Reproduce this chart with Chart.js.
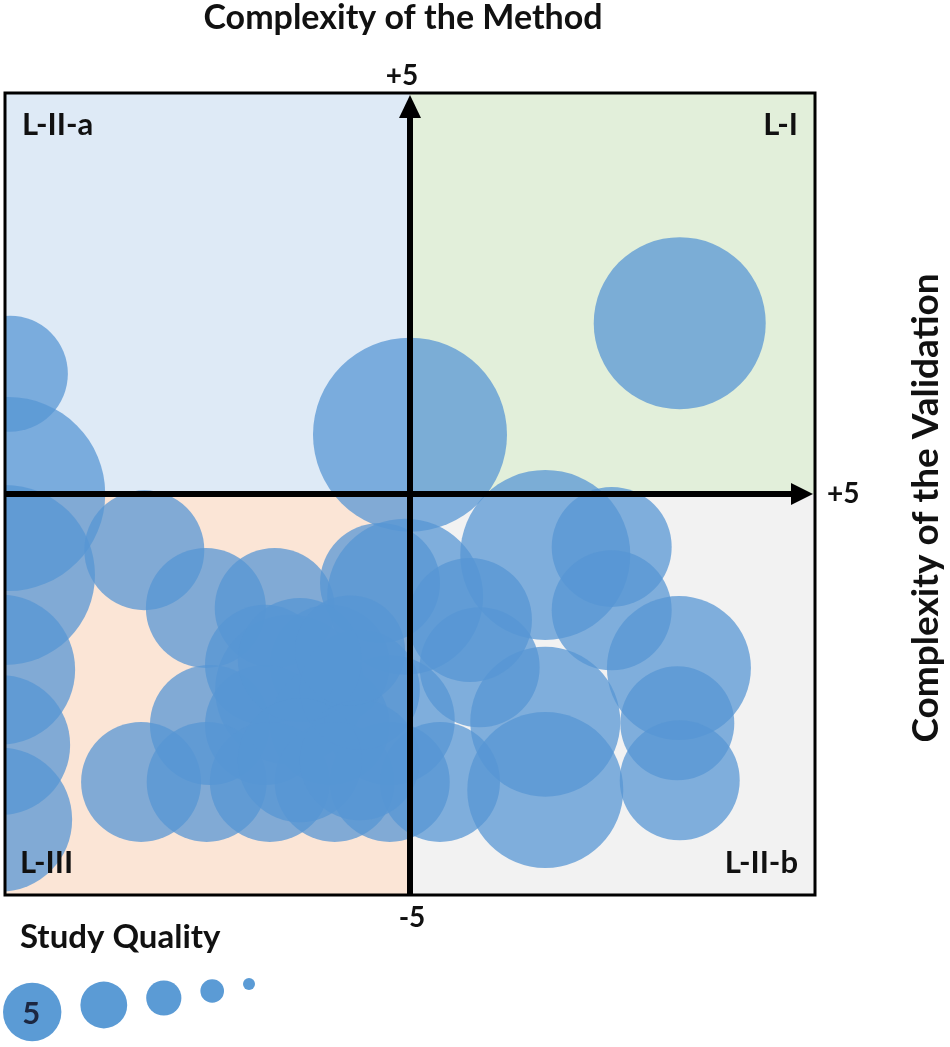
<!DOCTYPE html>
<html>
<head>
<meta charset="utf-8">
<script src="https://cdn.jsdelivr.net/npm/chart.js@4.4.1/dist/chart.umd.min.js"></script>
<style>
    html, body { margin: 0; padding: 0; background: #fff; }
    #wrap { position: relative; width: 950px; height: 1047px; }
</style>
</head>
<body>
<div id="wrap"><canvas id="quadrantChart"></canvas></div>
<script>
// studies: method complexity (x), validation complexity (y), bubble radius (study quality)
const methodScore = [3.33, 0.00, -4.94, -4.96, -5.00, -5.06, -5.06, -5.06, -3.28, -2.52,
    -1.67, -0.37, -0.06, -1.79, -0.99, -1.48, -2.47, -1.79, -0.99, -0.25,
    -3.32, -2.51, -1.73, -0.93, -0.25, -0.62, 1.67, 2.49, 2.49, 3.32,
    3.30, 3.33, 1.67, 1.67, 0.86, 0.74, 0.37, -1.36, -1.36, -0.62,
    -0.74];
const validationScore = [2.13, 0.74, 1.50, 0.00, -1.01, -2.19, -3.13, -4.06, -0.70, -1.42,
    -1.42, -1.11, -1.28, -2.13, -2.13, -2.44, -2.88, -2.88, -2.88, -2.82,
    -3.59, -3.59, -3.59, -3.59, -3.59, -2.44, -0.76, -0.66, -1.45, -2.17,
    -2.86, -3.57, -2.84, -3.69, -2.16, -1.57, -3.59, -2.07, -3.32, -3.32,
    -1.95];
const qualitySize = [86, 97, 58, 97, 90, 75, 70, 72, 60, 60,
    60, 60, 78, 60, 60, 75, 60, 60, 60, 65,
    60, 60, 60, 60, 60, 60, 85, 60, 60, 72,
    57, 60, 75, 78, 60, 62, 60, 62, 62, 60,
    55];

const axisMin = -5;
const axisMax = 5;
const tickLabels = { top: '+5', right: '+5', bottom: '-5' };
const quadrantNames = { topLeft: 'L-II-a', topRight: 'L-I', bottomLeft: 'L-III', bottomRight: 'L-II-b' };
const qualityLevels = [5, 4, 3, 2, 1];

const bubbleColor = 'rgba(86, 150, 212, 0.74)';
const FONT = 'Lato, "Open Sans", sans-serif';

const bubblePoints = methodScore.map((x, i) => ({ x: x, y: validationScore[i], r: qualitySize[i] }));

const quadrantPlugin = {
    id: 'quadrants',
    beforeDatasetsDraw(chart) {
        const { ctx, chartArea: a, scales } = chart;
        const cx = scales.x.getPixelForValue(0);
        const cy = scales.y.getPixelForValue(0);
        ctx.save();
        ctx.fillStyle = '#deeaf6';
        ctx.fillRect(a.left, a.top, cx - a.left, cy - a.top);
        ctx.fillStyle = '#e2efda';
        ctx.fillRect(cx, a.top, a.right - cx, cy - a.top);
        ctx.fillStyle = '#fbe5d6';
        ctx.fillRect(a.left, cy, cx - a.left, a.bottom - cy);
        ctx.fillStyle = '#f2f2f2';
        ctx.fillRect(cx, cy, a.right - cx, a.bottom - cy);
        ctx.restore();
    },
    afterDatasetsDraw(chart) {
        const { ctx, chartArea: a, scales } = chart;
        const cx = scales.x.getPixelForValue(0);
        const cy = scales.y.getPixelForValue(0);
        ctx.save();
        // frame
        ctx.strokeStyle = '#000';
        ctx.lineWidth = 3;
        ctx.strokeRect(a.left, a.top, a.right - a.left, a.bottom - a.top);

        // axes with arrows
        ctx.lineWidth = 6;
        ctx.beginPath();
        ctx.moveTo(cx, a.bottom);
        ctx.lineTo(cx, a.top + 20);
        ctx.moveTo(a.left, cy);
        ctx.lineTo(a.right - 22, cy);
        ctx.stroke();
        ctx.fillStyle = '#000';
        ctx.beginPath();
        ctx.moveTo(cx, a.top + 2);
        ctx.lineTo(cx - 11, a.top + 25);
        ctx.lineTo(cx + 11, a.top + 25);
        ctx.closePath();
        ctx.fill();
        ctx.beginPath();
        ctx.moveTo(a.right - 2, cy);
        ctx.lineTo(a.right - 24, cy - 11);
        ctx.lineTo(a.right - 24, cy + 11);
        ctx.closePath();
        ctx.fill();

        // quadrant names
        ctx.fillStyle = '#111';
        ctx.font = 'bold 31px ' + FONT;
        ctx.textBaseline = 'alphabetic';
        ctx.textAlign = 'left';
        ctx.fillText(quadrantNames.topLeft, a.left + 17, a.top + 42);
        ctx.fillText(quadrantNames.bottomLeft, a.left + 15, a.bottom - 22);
        ctx.textAlign = 'right';
        ctx.fillText(quadrantNames.topRight, a.right - 17, a.top + 42);
        ctx.fillText(quadrantNames.bottomRight, a.right - 17, a.bottom - 22);

        // tick labels
        ctx.font = 'bold 28px ' + FONT;
        ctx.textAlign = 'center';
        ctx.fillText(tickLabels.top, cx - 8, a.top - 8);
        ctx.fillText(tickLabels.bottom, cx + 2, a.bottom + 32);
        ctx.textAlign = 'left';
        ctx.textBaseline = 'middle';
        ctx.fillText(tickLabels.right, a.right + 12, cy);

        // axis titles
        ctx.textBaseline = 'alphabetic';
        ctx.font = 'bold 34px ' + FONT;
        ctx.textAlign = 'center';
        ctx.fillText('Complexity of the Method', 403, 29);
        ctx.save();
        ctx.translate(938, 508);
        ctx.rotate(-Math.PI / 2);
        ctx.font = 'bold 37px ' + FONT;
        ctx.fillText('Complexity of the Validation', 0, 0);
        ctx.restore();

        // study quality legend
        ctx.textAlign = 'left';
        ctx.font = 'bold 33px ' + FONT;
        ctx.fillText('Study Quality', 20, 948);
        let x = 3;
        qualityLevels.forEach((q, i) => {
            const r = 6 + (q - 1) * 5.8;
            const cyL = 1012 - (5 - q) * 7;
            x += r;
            ctx.fillStyle = '#5b9bd5';
            ctx.beginPath();
            ctx.arc(x, cyL, r, 0, Math.PI * 2);
            ctx.fill();
            if (i === 0) {
                ctx.fillStyle = '#1c2741';
                ctx.font = 'bold 31px ' + FONT;
                ctx.textAlign = 'center';
                ctx.textBaseline = 'middle';
                ctx.fillText(String(q), x - 1, cyL + 2);
            }
            x += r + 19;
        });
        ctx.restore();
    }
};

const ctx = document.getElementById('quadrantChart').getContext('2d');
const qualityChart = new Chart(ctx, {
    type: 'bubble',
    data: {
        datasets: [{
            label: 'Studies',
            data: bubblePoints,
            backgroundColor: bubbleColor,
            borderWidth: 0,
            hoverRadius: 0,
            clip: 0
        }]
    },
    options: {
        responsive: true,
        maintainAspectRatio: false,
        animation: false,
        events: [],
        layout: { autoPadding: false, padding: { left: 5, right: 135, top: 93, bottom: 152 } },
        scales: {
            x: { min: axisMin, max: axisMax, display: false },
            y: { min: axisMin, max: axisMax, display: false }
        },
        plugins: {
            legend: { display: false },
            tooltip: { enabled: false }
        }
    },
    plugins: [quadrantPlugin]
});
</script>
</body>
</html>
